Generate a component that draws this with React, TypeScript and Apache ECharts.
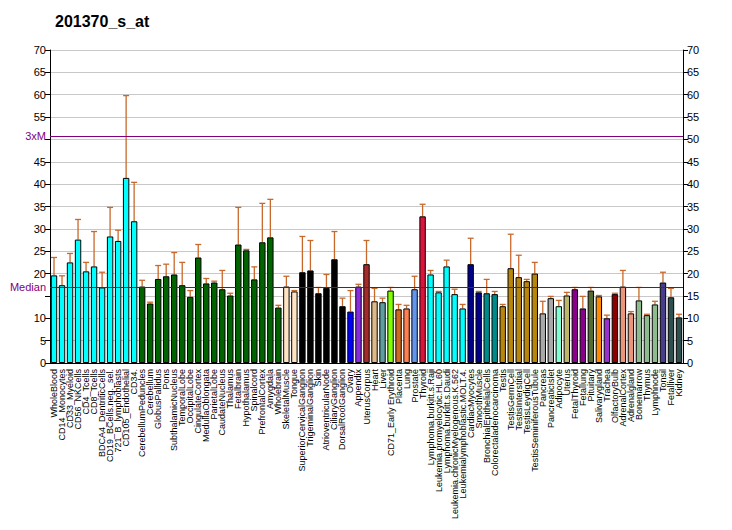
import React, { useEffect, useRef } from "react";
import * as echarts from "echarts";

const categories = [
  "WholeBlood","CD14_Monocytes","CD33_Myeloid","CD56_NKCells","CD4_Tcells","CD8_Tcells",
  "BDCA4_DentriticCells","CD19_BCells.neg._sel.","721_B_lymphoblasts","CD105_Endothelial","CD34.",
  "CerebellumPeduncles","Cerebellum","GlobusPallidus","Pons","SubthalamicNucleus","TemporalLobe",
  "OccipitalLobe","CingulateCortex","MedullaOblongata","ParietalLobe","CaudateNucleus","Thalamus",
  "Fetalbrain","Hypothalamus","Spinalcord","PrefrontalCortex","Amygdala","Wholebrain",
  "SkeletalMuscle","Tongue","SuperiorCervicalGanglion","TrigeminalGanglion","Skin",
  "AtrioventricularNode","CiliaryGanglion","DorsalRootGanglion","Ovary","Appendix","UterusCorpus",
  "Heart","Liver","CD71_Early Erythroid","Placenta","Lung","Prostate","Thyroid",
  "Lymphoma.burkitt.s.Raji","Leukemia.promyelocytic.HL.60","Lymphoma.burkitt.s.Daudi",
  "Leukemia.chronicMyelogenous.K.562","Leukemialymphoblastic.MOLT.4.","CardiacMyocytes",
  "SmoothMuscle","BronchialEpithelialCells","Colorectaladenocarcinoma","Testis","TestisGermCell",
  "TestisInterstitial","TestisLeydigCell","TestisSeminiferousTubule","Pancreas","PancreaticIslet",
  "Adipocyte","Uterus","FetalThyroid","Fetallung","Pituitary","Salivarygland","Trachea",
  "OlfactoryBulb","AdrenalCortex","Adrenalgland","Bonemarrow","Thymus","Lymphnode","Tonsil",
  "Fetalliver","Kidney"
];

const values = [
  19.6,17.4,22.5,27.6,20.5,21.6,16.9,28.3,27.3,41.4,31.7,
  17.1,13.3,18.8,19.4,19.8,17.4,14.8,23.6,17.8,18.0,16.5,15.1,
  26.5,25.2,18.7,27.0,28.1,12.4,
  17.1,16.0,20.3,20.7,15.6,16.8,23.2,12.7,11.5,17.1,22.1,
  13.8,13.6,16.2,12.0,12.2,16.5,32.8,
  19.8,15.8,21.6,15.4,12.2,22.1,15.8,15.6,15.4,12.7,21.2,19.2,18.3,20.0,
  11.1,14.5,12.7,15.1,16.5,12.2,16.2,14.9,10.0,15.4,17.1,11.1,14.0,10.7,13.1,18.0,14.7,10.2
];

const errorTops = [
  23.6,19.5,24.5,32.1,22.5,29.4,20.3,34.8,29.7,59.8,40.4,
  18.5,13.6,21.8,22.1,24.7,22.5,16.2,26.5,18.9,18.3,20.7,15.6,
  34.8,25.4,21.5,35.7,36.6,12.9,
  19.4,16.2,28.3,27.4,16.9,19.8,29.4,14.5,16.2,17.6,27.4,
  16.7,14.5,16.9,13.1,12.9,19.4,35.5,
  20.7,16.0,23.0,16.5,13.1,27.9,16.0,18.7,16.0,13.1,28.8,24.1,18.7,22.5,
  13.8,14.9,14.0,15.8,16.9,14.9,16.9,15.1,10.7,15.6,20.7,11.5,16.9,10.9,13.8,20.3,16.7,10.9
];

const barColors = [
  ...Array(11).fill("#00FFFF"),
  ...Array(18).fill("#006400"),
  "#FFE4C4","#FFE4C4",
  "#000000","#000000","#000000","#000000","#000000","#000000",
  "#0000FF","#8A2BE2","#A52A2A","#DEB887","#5F9EA0","#7FFF00","#D2691E","#FF7F50","#6495ED","#DC143C",
  "#00FFFF","#00FFFF","#00FFFF","#00FFFF","#00FFFF",
  "#00008B","#00008B","#008B8B","#008B8B",
  "#B8860B","#B8860B","#B8860B","#B8860B","#B8860B",
  "#A9A9A9","#A9A9A9","#7FFFD4","#BDB76B","#8B008B","#8B008B","#556B2F","#FF8C00","#9932CC","#8B0000",
  "#E9967A","#E9967A","#8FBC8F","#8FBC8F","#8FBC8F","#483D8B","#2F4F4F","#2F4F4F"
];

const medianValue = 16.9;
const threeXM = 50.7;
const yTicksHiddenLeft = [15, 50];

export default function App() {
  const ref = useRef<HTMLDivElement>(null);
  useEffect(() => {
    if (!ref.current) return;
    const chart = echarts.init(ref.current, null, { renderer: "svg" });
    const font = "Arial, 'Liberation Sans', sans-serif";
    chart.setOption({
      animation: false,
      backgroundColor: "#ffffff",
      title: {
        text: "201370_s_at",
        left: 50,
        top: 8,
        textStyle: { fontFamily: font, fontSize: 16, fontWeight: "bold", color: "#000" },
      },
      grid: { left: 50, right: 49, top: 50, bottom: 167, containLabel: false, outerBoundsMode: "none" },
      xAxis: {
        type: "category",
        data: categories,
        boundaryGap: true,
        axisLine: { lineStyle: { color: "#000" } },
        axisTick: { alignWithLabel: true, length: 5, lineStyle: { color: "#000" } },
        axisLabel: {
          interval: 0,
          rotate: 90,
          fontSize: 9,
          fontFamily: font,
          color: "#000",
          margin: 6,
        },
      },
      yAxis: [
        {
          type: "value",
          min: 0,
          max: 70,
          interval: 5,
          position: "left",
          axisLine: { show: true, lineStyle: { color: "#000" } },
          axisTick: { show: true, length: 5, lineStyle: { color: "#000" } },
          axisLabel: {
            fontSize: 11,
            fontFamily: font,
            color: "#000",
            margin: 4,
            formatter: (v: number) => (yTicksHiddenLeft.includes(v) ? "" : String(v)),
          },
          splitLine: { show: true, lineStyle: { color: "#C8C8C8", width: 1 } },
        },
        {
          type: "value",
          min: 0,
          max: 70,
          interval: 5,
          position: "right",
          axisLine: { show: true, lineStyle: { color: "#000" } },
          axisTick: { show: true, length: 5, lineStyle: { color: "#000" } },
          axisLabel: { fontSize: 11, fontFamily: font, color: "#000", margin: 4 },
          splitLine: { show: false },
        },
      ],
      series: [
        {
          type: "bar",
          data: values.map((v, i) => ({ value: v, itemStyle: { color: barColors[i] } })),
          barCategoryGap: "20%",
          itemStyle: { borderColor: "#000", borderWidth: 1 },
          z: 2,
          markLine: {
            silent: true,
            symbol: "none",
            animation: false,
            data: [
              {
                yAxis: medianValue,
                lineStyle: { color: "#800080", type: "solid", width: 1 },
                label: { show: true, position: "start", formatter: "Median", color: "#800080", fontSize: 11, fontFamily: font, distance: 4 },
              },
              {
                yAxis: threeXM,
                lineStyle: { color: "#800080", type: "solid", width: 1 },
                label: { show: true, position: "start", formatter: "3xM", color: "#800080", fontSize: 11, fontFamily: font, distance: 4 },
              },
            ],
          },
        },
        {
          type: "custom",
          z: 1,
          data: errorTops.map((e, i) => [i, values[i], e]),
          renderItem: (params: any, api: any) => {
            const i = api.value(0);
            const base = api.coord([i, api.value(1)]);
            const top = api.coord([i, api.value(2)]);
            const half = 3;
            const style = { stroke: "#C8692C", lineWidth: 1.3 };
            return {
              type: "group",
              children: [
                { type: "line", shape: { x1: base[0], y1: base[1], x2: top[0], y2: top[1] }, style },
                { type: "line", shape: { x1: top[0] - half, y1: top[1], x2: top[0] + half, y2: top[1] }, style },
              ],
            };
          },
        },
      ],
    });
    return () => chart.dispose();
  }, []);
  return <div ref={ref} style={{ width: 732, height: 530, marginLeft: -8, marginTop: -8 }} />;
}
